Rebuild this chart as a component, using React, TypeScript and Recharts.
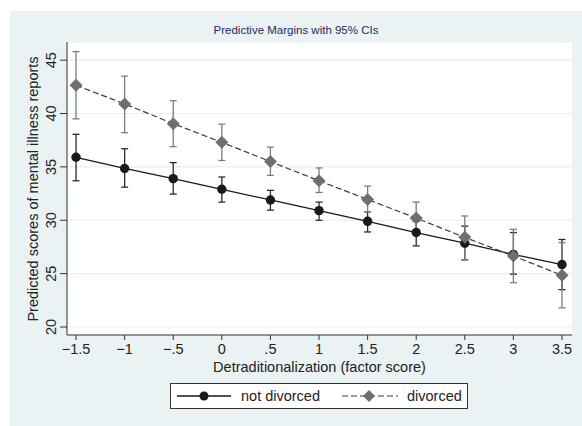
import { ComposedChart, Line, XAxis, YAxis, CartesianGrid, ErrorBar } from 'recharts'

const FONT = '"Liberation Sans", Arial, Helvetica, sans-serif'

// factor score positions
const scores = [-1.5, -1, -0.5, 0, 0.5, 1, 1.5, 2, 2.5, 3, 3.5]

// predicted margins + 95% CI
const notDivorced = [35.9, 34.85, 33.9, 32.9, 31.9, 30.9, 29.9, 28.85, 27.85, 26.8, 25.85]
const notDivorcedLo = [33.7, 33.1, 32.45, 31.7, 30.95, 30.0, 28.9, 27.6, 26.3, 24.95, 23.5]
const notDivorcedHi = [38.05, 36.7, 35.4, 34.05, 32.8, 31.7, 30.8, 29.9, 29.45, 28.85, 28.2]

const divorced = [42.65, 40.9, 39.05, 37.3, 35.5, 33.7, 31.95, 30.2, 28.4, 26.65, 24.85]
const divorcedLo = [39.5, 38.2, 36.9, 35.6, 34.2, 32.6, 30.8, 28.7, 26.3, 24.15, 21.8]
const divorcedHi = [45.8, 43.5, 41.2, 39.0, 36.85, 34.9, 33.2, 31.7, 30.4, 29.15, 27.9]

const xTicks = [-1.5, -1, -0.5, 0, 0.5, 1, 1.5, 2, 2.5, 3, 3.5]
const yTicks = [20, 25, 30, 35, 40, 45]

const rows = scores.map((x, i) => ({
  x,
  nd: notDivorced[i],
  ndErr: [notDivorced[i] - notDivorcedLo[i], notDivorcedHi[i] - notDivorced[i]],
  dv: divorced[i],
  dvErr: [divorced[i] - divorcedLo[i], divorcedHi[i] - divorced[i]],
}))

const fmtX = (v: number) => {
  const s = Math.abs(v) < 1 && v !== 0 ? String(Math.abs(v)).replace(/^0/, '') : String(Math.abs(v))
  return v < 0 ? '\u2212' + s : s
}

const XTick = ({ x, y, payload }: any) => (
  <text x={x} y={y} dy="0.71em" textAnchor="middle" fontSize={14.5} fontFamily={FONT} fill="#222">
    {fmtX(payload.value)}
  </text>
)

const YTick = ({ x, y, payload }: any) => {
  const cx = x - 2
  return (
    <text
      x={cx}
      y={y}
      transform={`rotate(-90, ${cx}, ${y})`}
      textAnchor="middle"
      fontSize={14.5}
      fontFamily={FONT}
      fill="#222"
    >
      {payload.value}
    </text>
  )
}

const Diamond = ({ cx, cy, index }: any) => (
  <polygon
    key={'d' + index}
    points={`${cx},${cy - 6.5} ${cx + 6.5},${cy} ${cx},${cy + 6.5} ${cx - 6.5},${cy}`}
    fill="#6f6f6f"
  />
)

export default function App() {
  return (
    <div style={{ position: 'absolute', left: 10, top: 11, width: 572, height: 415, background: '#eaf2f3', fontFamily: FONT }}>
      <div style={{ position: 'absolute', left: 0, width: 572, top: 13, textAlign: 'center', fontSize: 11.5, color: '#1e2d5a' }}>
        Predictive Margins with 95% CIs
      </div>

      <div style={{ position: 'absolute', left: 57, top: 31, width: 505, height: 293, background: '#fff' }} />

      <ComposedChart
        width={572}
        height={415}
        data={rows}
        margin={{ top: 31, right: 10, left: 0, bottom: 0 }}
        style={{ position: 'absolute', left: 0, top: 0 }}
      >
        <CartesianGrid vertical={false} stroke="#e6eff1" strokeWidth={1.2} />
        <XAxis
          dataKey="x"
          type="number"
          domain={[-1.593, 3.603]}
          ticks={xTicks}
          height={91}
          tickSize={5}
          tickMargin={4}
          tick={<XTick />}
          stroke="#333"
          allowDataOverflow
        />
        <YAxis
          type="number"
          domain={[19.25, 46.7]}
          ticks={yTicks}
          width={57}
          tickSize={7}
          tickMargin={2}
          tick={<YTick />}
          stroke="#333"
          allowDataOverflow
        />
        <Line
          dataKey="nd"
          stroke="#1a1a1a"
          strokeWidth={1.3}
          dot={{ r: 4.7, fill: '#1a1a1a', stroke: 'none' }}
          activeDot={false}
          isAnimationActive={false}
        >
          <ErrorBar dataKey="ndErr" direction="y" width={3.5} stroke="#2a2a2a" strokeWidth={1.3} />
        </Line>
        <Line
          dataKey="dv"
          stroke="#3a3a3a"
          strokeWidth={1.2}
          strokeDasharray="6 3"
          dot={<Diamond />}
          activeDot={false}
          isAnimationActive={false}
        >
          <ErrorBar dataKey="dvErr" direction="y" width={3.5} stroke="#7d7d7d" strokeWidth={1.3} />
        </Line>
      </ComposedChart>

      <div
        style={{
          position: 'absolute',
          left: 23 - 150,
          top: 177.5 - 9,
          width: 300,
          height: 18,
          lineHeight: '18px',
          textAlign: 'center',
          fontSize: 14.5,
          color: '#222',
          transform: 'rotate(-90deg)',
        }}
      >
        Predicted scores of mental illness reports
      </div>

      <div
        style={{
          position: 'absolute',
          left: 57,
          width: 505,
          top: 355.5 - 9,
          lineHeight: '18px',
          textAlign: 'center',
          fontSize: 14.5,
          color: '#222',
        }}
      >
        Detraditionalization (factor score)
      </div>

      <div
        style={{
          position: 'absolute',
          left: 160,
          top: 372,
          width: 298,
          height: 26,
          boxSizing: 'border-box',
          border: '1px solid #333',
          background: '#fff',
          display: 'flex',
          alignItems: 'center',
          fontSize: 14.5,
          color: '#222',
        }}
      >
        <svg width={54} height={12} style={{ marginLeft: 6 }}>
          <line x1={0} y1={6} x2={54} y2={6} stroke="#1a1a1a" strokeWidth={1.3} />
          <circle cx={27} cy={6} r={4.5} fill="#1a1a1a" />
        </svg>
        <span style={{ marginLeft: 10 }}>not divorced</span>
        <svg width={56} height={14} style={{ marginLeft: 22 }}>
          <line x1={0} y1={7} x2={56} y2={7} stroke="#3a3a3a" strokeWidth={1.2} strokeDasharray="6 3" />
          <polygon points="27,1 33,7 27,13 21,7" fill="#6f6f6f" />
        </svg>
        <span style={{ marginLeft: 9 }}>divorced</span>
      </div>
    </div>
  )
}
